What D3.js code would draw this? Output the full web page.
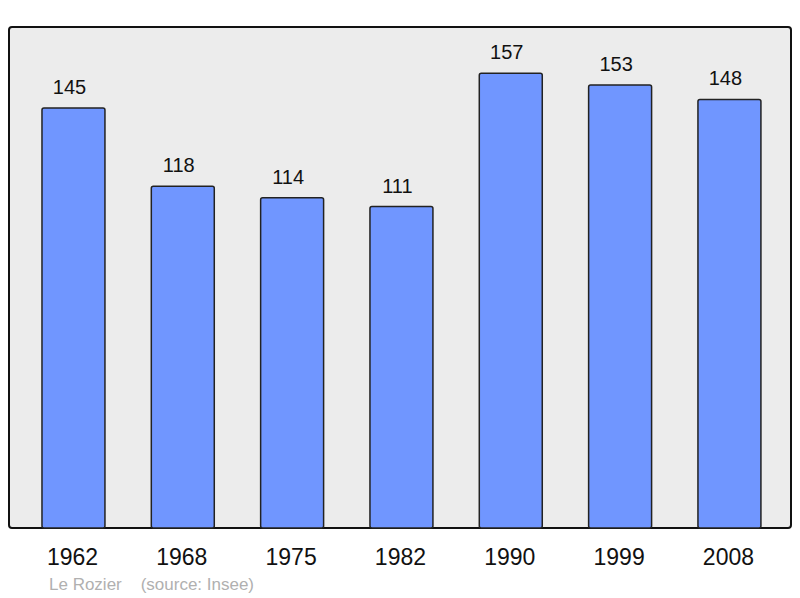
<!DOCTYPE html>
<html>
<head>
<meta charset="utf-8">
<script src="https://cdn.jsdelivr.net/npm/d3@7"></script>
<style>
  body { margin: 0; background: #fff; }
  text { font-family: "Liberation Sans", Arial, sans-serif; }
</style>
</head>
<body>
<script>
const years = ["1962", "1968", "1975", "1982", "1990", "1999", "2008"];
const population = [145, 118, 114, 111, 157, 153, 148];
const commune = "Le Rozier";
const source = "(source: Insee)";

const width = 800, height = 598;
const panel = { x: 9, y: 27, w: 782, h: 501 };

const svg = d3.select("body").append("svg")
  .attr("width", width)
  .attr("height", height);

svg.append("rect")
  .attr("x", panel.x)
  .attr("y", panel.y)
  .attr("width", panel.w)
  .attr("height", panel.h)
  .attr("rx", 3)
  .attr("fill", "#ececec")
  .attr("stroke", "#111")
  .attr("stroke-width", 2);

const x = d3.scaleBand()
  .domain(years)
  .range([18.8, 784.1])
  .paddingInner(0.424)
  .paddingOuter(0.212);

const y = d3.scaleLinear()
  .domain([0, 173])
  .range([panel.y + panel.h, panel.y]);

const data = years.map((yr, i) => ({ year: yr, value: population[i] }));

svg.append("g")
  .selectAll("rect")
  .data(data)
  .join("rect")
  .attr("x", d => x(d.year))
  .attr("y", d => y(d.value))
  .attr("width", x.bandwidth())
  .attr("height", d => y(0) - y(d.value))
  .attr("rx", 2)
  .attr("fill", "#7096ff")
  .attr("stroke", "#222")
  .attr("stroke-width", 1.5);

// value labels sit a little left of the bar centre
svg.append("g")
  .selectAll("text")
  .data(data)
  .join("text")
  .attr("x", d => x(d.year) + x.bandwidth() / 2 - 4)
  .attr("y", d => y(d.value) - 14)
  .attr("text-anchor", "middle")
  .attr("font-size", 20)
  .attr("fill", "#111")
  .text(d => d.value);

svg.append("g")
  .selectAll("text")
  .data(years)
  .join("text")
  .attr("x", d => x(d) + x.bandwidth() / 2 - 1)
  .attr("y", 565)
  .attr("text-anchor", "middle")
  .attr("font-size", 23)
  .attr("fill", "#111")
  .text(d => d);

svg.append("text")
  .attr("x", 49)
  .attr("y", 590)
  .attr("font-size", 17)
  .attr("fill", "#b0b0b0")
  .attr("xml:space", "preserve")
  .style("white-space", "pre")
  .text(commune + "    " + source);
</script>
</body>
</html>
